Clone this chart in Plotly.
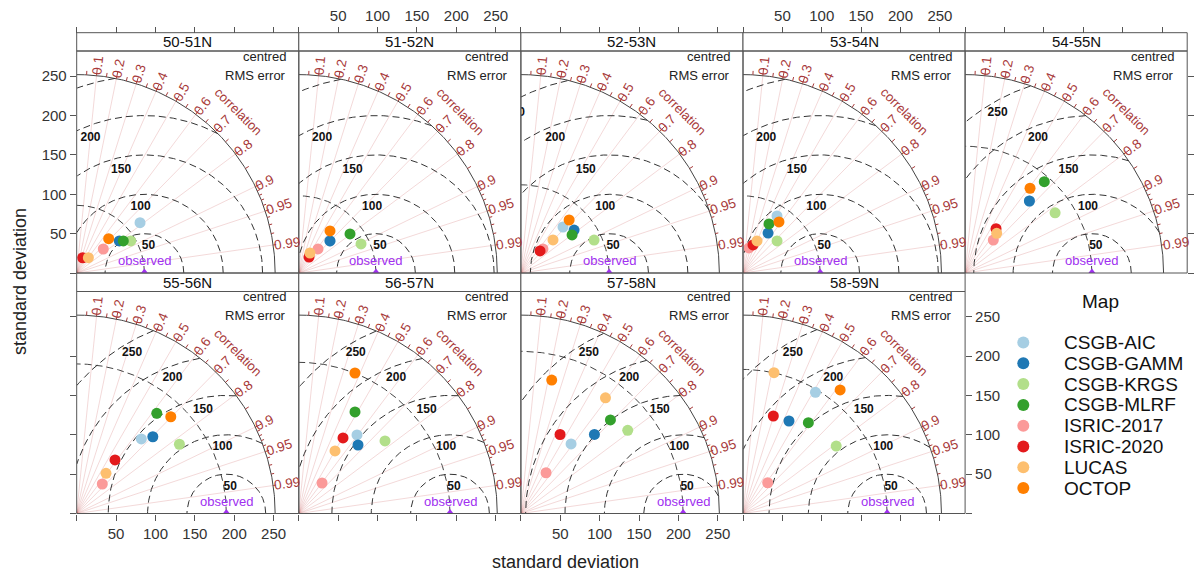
import math
import numpy as np
import plotly.graph_objects as go

W, H = 1200, 578
FONT = "Liberation Sans, Arial, sans-serif"

# ---------------- data ----------------
panels = ["50-51N", "51-52N", "52-53N", "53-54N", "54-55N",
          "55-56N", "56-57N", "57-58N", "58-59N"]
obs_sd = [86, 98, 112, 98, 161, 190, 192, 206, 183]

maps = ["CSGB-AIC", "CSGB-GAMM", "CSGB-KRGS", "CSGB-MLRF",
        "ISRIC-2017", "ISRIC-2020", "LUCAS", "OCTOP"]
map_colors = ["#A6CEE3", "#1F78B4", "#B2DF8A", "#33A02C",
              "#FB9A99", "#E31A1C", "#FDBF6F", "#FF7F00"]

sd_csgb_aic = [102.7, 56.8, 79.2, 84.3, 122.6, 125.3, 124.2, 108.9, 179.3]
cor_csgb_aic = [0.783, 0.697, 0.675, 0.512, 0.666, 0.655, 0.595, 0.585, 0.513]
sd_csgb_gamm = [67.7, 56.8, 86.8, 59.9, 122.6, 137.3, 115.0, 137.1, 131.2]
cor_csgb_gamm = [0.799, 0.697, 0.778, 0.531, 0.666, 0.704, 0.654, 0.681, 0.445]
sd_csgb_krgs = [79.8, 87.2, 101.9, 59.4, 137.5, 157.3, 143.1, 171.9, 146.1]
cor_csgb_krgs = [0.860, 0.906, 0.912, 0.728, 0.831, 0.829, 0.765, 0.789, 0.810]
sd_csgb_mlrf = [71.8, 81.8, 81.0, 70.5, 153.5, 162.9, 147.4, 164.5, 142.1]
cor_csgb_mlrf = [0.824, 0.795, 0.802, 0.468, 0.655, 0.624, 0.484, 0.691, 0.584]
sd_isric_2017 = [45.5, 39.1, 41.4, 32.7, 55.1, 49.6, 48.7, 60.8, 50.1]
cor_isric_2017 = [0.742, 0.624, 0.676, 0.232, 0.650, 0.655, 0.606, 0.525, 0.626]
sd_isric_2020 = [20.8, 24.1, 37.1, 37.8, 68.7, 83.6, 111.2, 112.0, 129.7]
cor_isric_2020 = [0.365, 0.539, 0.655, 0.336, 0.572, 0.582, 0.505, 0.444, 0.297]
sd_lucas = [24.4, 29.1, 58.5, 44.4, 64.4, 63.2, 91.8, 182.0, 183.2]
cor_lucas = [0.607, 0.488, 0.697, 0.401, 0.623, 0.589, 0.501, 0.590, 0.215]
sd_octop = [59.6, 66.5, 91.0, 79.3, 135.6, 171.4, 192.2, 174.0, 199.6]
cor_octop = [0.681, 0.596, 0.673, 0.576, 0.608, 0.697, 0.371, 0.225, 0.618]

series_sd = [sd_csgb_aic, sd_csgb_gamm, sd_csgb_krgs, sd_csgb_mlrf,
             sd_isric_2017, sd_isric_2020, sd_lucas, sd_octop]
series_cor = [cor_csgb_aic, cor_csgb_gamm, cor_csgb_krgs, cor_csgb_mlrf,
              cor_isric_2017, cor_isric_2020, cor_lucas, cor_octop]

sd_ticks = [0, 50, 100, 150, 200, 250]
sd_ticklabels = ["", "50", "100", "150", "200", "250"]
rms_levels = [50, 100, 150, 200, 250]
rms_label_angle = [1.47, 1.62, 1.77, 1.92, 2.07]     # radians along each rms circle
corr_labels = [0.1, 0.2, 0.3, 0.4, 0.5, 0.6, 0.7, 0.8, 0.9, 0.95, 0.99]
corr_med_ticks = [0.05, 0.15, 0.25, 0.35, 0.45, 0.55, 0.65, 0.75, 0.85, 0.95]
corr_small_ticks = [0.91, 0.92, 0.93, 0.94, 0.96, 0.97, 0.98, 0.99]
max_sd = 252

# ---------------- style / geometry ----------------
AX_MAX = 282
col_left0, col_w = 76.7, 222.1
rows = [dict(strip_top=32.7, top=51.0, bottom=273.0),
        dict(strip_top=273.0, top=291.5, bottom=513.5)]
PPU = col_w / AX_MAX
FRAME = "#555555"
CORR_COL = "#A83A3A"
CORR_LINE = "rgba(200,80,80,0.22)"
ARC_COL = "#444444"
OBS_COL = "#A030F0"
RMS_FS = 12
CORR_FS = 13.5
DASH = "7px,4px"


def pxx(x):
    return x / W


def pyy(y):
    return 1 - y / H


def text_em(s):
    return sum(0.278 if ch == "." else 0.556 for ch in s)


fig = go.Figure()
layout = {}
annotations = []
shapes = []

for k, name in enumerate(panels):
    r, c = divmod(k, 5)
    g = rows[r]
    L = col_left0 + c * col_w
    R = L + col_w
    sfx = "" if k == 0 else str(k + 1)
    xa, ya = "x" + sfx, "y" + sfx
    sd_r = obs_sd[k]

    tickfont = dict(family=FONT, size=15, color="#333333")
    xaxis = dict(domain=[pxx(L), pxx(R)], range=[0, AX_MAX], showgrid=False,
                 zeroline=False, showline=False, tickvals=sd_ticks,
                 ticktext=sd_ticklabels, ticks="outside", ticklen=6,
                 tickcolor=FRAME, tickfont=tickfont, automargin=False,
                 fixedrange=True)
    yaxis = dict(domain=[pyy(g["bottom"]), pyy(g["top"])], range=[0, AX_MAX],
                 showgrid=False, zeroline=False, showline=False,
                 tickvals=sd_ticks, ticktext=sd_ticklabels, ticks="outside",
                 ticklen=6, tickcolor=FRAME, tickfont=tickfont,
                 automargin=False, fixedrange=True, anchor=xa)
    if r == 0:
        xaxis.update(side="top", anchor="free", position=pyy(g["strip_top"]),
                     showticklabels=(c in (1, 3)))
        if c == 0:
            yaxis.update(side="left", showticklabels=True)
        elif c == 4:
            yaxis.update(side="right", showticklabels=False)
        else:
            yaxis.update(ticks="", showticklabels=False)
    else:
        xaxis.update(side="bottom", anchor=ya, showticklabels=(c in (0, 2)))
        if c == 0:
            yaxis.update(side="left", showticklabels=False)
        elif c == 3:
            yaxis.update(side="right", showticklabels=True)
        else:
            yaxis.update(ticks="", showticklabels=False)
    layout["xaxis" + sfx] = xaxis
    layout["yaxis" + sfx] = yaxis

    # correlation rays
    rx, ry = [], []
    for cc in corr_labels:
        rx += [0, max_sd * cc, None]
        ry += [0, max_sd * math.sqrt(1 - cc * cc), None]
    fig.add_trace(go.Scatter(x=rx, y=ry, mode="lines", xaxis=xa, yaxis=ya,
                             line=dict(color=CORR_LINE, width=1),
                             hoverinfo="skip", showlegend=False))

    # outer arc (solid) and observed-sd arc (dashed)
    th = np.linspace(0, math.pi / 2, 200)
    fig.add_trace(go.Scatter(x=max_sd * np.cos(th), y=max_sd * np.sin(th),
                             mode="lines", xaxis=xa, yaxis=ya,
                             line=dict(color=ARC_COL, width=1),
                             hoverinfo="skip", showlegend=False))
    fig.add_trace(go.Scatter(x=sd_r * np.cos(th), y=sd_r * np.sin(th),
                             mode="lines", xaxis=xa, yaxis=ya,
                             line=dict(color=ARC_COL, width=1, dash=DASH),
                             hoverinfo="skip", showlegend=False))

    # centred RMS circles
    t = np.linspace(0, math.pi, 600)
    for gm in rms_levels:
        cx = sd_r + gm * np.cos(t)
        cy = gm * np.sin(t)
        keep = (cx >= 0) & (cx * cx + cy * cy <= max_sd * max_sd)
        fig.add_trace(go.Scatter(x=cx[keep], y=cy[keep], mode="lines",
                                 xaxis=xa, yaxis=ya,
                                 line=dict(color="#333333", width=1, dash=DASH),
                                 hoverinfo="skip", showlegend=False))
    lx, ly, lt = [], [], []
    for gm, a in zip(rms_levels, rms_label_angle):
        xx = sd_r + gm * math.cos(a)
        half_w = text_em(str(gm)) * RMS_FS / PPU / 2
        if xx + half_w <= 0:
            continue  # entirely outside the panel
        lx.append(xx)
        ly.append(gm * math.sin(a) - 12.5 / PPU)
        lt.append("<b>%d</b>" % gm)
    fig.add_trace(go.Scatter(x=lx, y=ly, mode="text", xaxis=xa, yaxis=ya,
                             text=lt, textposition="middle center",
                             textfont=dict(family=FONT, size=RMS_FS, color="#111111"),
                             cliponaxis=True, hoverinfo="skip", showlegend=False))

    # correlation ticks on outer arc
    tx, ty = [], []
    for lst, ln in ((corr_labels[:9], 1.035), (corr_med_ticks, 1.02), (corr_small_ticks, 1.015)):
        for cc in lst:
            s = math.sqrt(1 - cc * cc)
            tx += [max_sd * cc, max_sd * ln * cc, None]
            ty += [max_sd * s, max_sd * ln * s, None]
    fig.add_trace(go.Scatter(x=tx, y=ty, mode="lines", xaxis=xa, yaxis=ya,
                             line=dict(color=CORR_COL, width=1),
                             cliponaxis=False, hoverinfo="skip", showlegend=False))

    # correlation labels
    for cc in corr_labels:
        lbl = ("%g" % cc)
        ang = math.acos(cc)
        half = text_em(lbl) * CORR_FS / PPU / 2
        rc = max_sd * 1.005 + half
        annotations.append(dict(x=rc * math.cos(ang), y=rc * math.sin(ang),
                                xref=xa, yref=ya, text=lbl, showarrow=False,
                                xanchor="center", yanchor="middle",
                                textangle=-math.degrees(ang),
                                font=dict(family=FONT, size=CORR_FS, color=CORR_COL)))
    annotations.append(dict(x=max_sd * 0.814, y=max_sd * 0.814, xref=xa, yref=ya,
                            text="correlation", showarrow=False, textangle=45,
                            xanchor="center", yanchor="middle",
                            font=dict(family=FONT, size=13, color=CORR_COL)))

    # observed point
    fig.add_trace(go.Scatter(x=[sd_r], y=[0], mode="markers", xaxis=xa, yaxis=ya,
                             marker=dict(symbol="triangle-up", size=9, color=OBS_COL),
                             cliponaxis=True, hoverinfo="skip", showlegend=False))
    annotations.append(dict(x=sd_r, y=0, xref=xa, yref=ya, text="observed",
                            showarrow=False, xanchor="center", yanchor="bottom", yshift=3,
                            font=dict(family=FONT, size=13, color=OBS_COL)))

    # model points
    for m, col, sds, cors in zip(maps, map_colors, series_sd, series_cor):
        sd = sds[k]
        cr = cors[k]
        fig.add_trace(go.Scatter(x=[sd * cr], y=[sd * math.sqrt(1 - cr * cr)],
                                 mode="markers", xaxis=xa, yaxis=ya, name=m,
                                 marker=dict(size=11, color=col),
                                 showlegend=False))

    # centred RMS error text
    annotations.append(dict(x=pxx(R - 11), y=pyy(g["top"] + 5), xref="paper",
                            yref="paper", text="centred", showarrow=False,
                            xanchor="right", yanchor="middle",
                            font=dict(family=FONT, size=13, color="#222222")))
    annotations.append(dict(x=pxx(R - 11), y=pyy(g["top"] + 24), xref="paper",
                            yref="paper", text="RMS error", showarrow=False,
                            xanchor="right", yanchor="middle",
                            font=dict(family=FONT, size=13, color="#222222")))

    # strip + frame
    shapes.append(dict(type="rect", xref="paper", yref="paper", x0=pxx(L), x1=pxx(R),
                       y0=pyy(g["top"]), y1=pyy(g["strip_top"]),
                       line=dict(color=FRAME, width=1), fillcolor="white", layer="below"))
    shapes.append(dict(type="rect", xref="paper", yref="paper", x0=pxx(L), x1=pxx(R),
                       y0=pyy(g["bottom"]), y1=pyy(g["top"]),
                       line=dict(color=FRAME, width=1), layer="above"))
    annotations.append(dict(x=pxx((L + R) / 2), y=pyy((g["strip_top"] + g["top"]) / 2),
                            xref="paper", yref="paper", text=name, showarrow=False,
                            xanchor="center", yanchor="middle",
                            font=dict(family=FONT, size=15, color="#111111")))

# ---------------- legend (overlay axis in pixel units) ----------------
leg_y0, leg_step = 342.5, 20.8
leg_ys = [leg_y0 + i * leg_step for i in range(len(maps))]
layout["xaxis10"] = dict(domain=[0, 1], range=[0, W], visible=False, anchor="y10",
                         fixedrange=True)
layout["yaxis10"] = dict(domain=[0, 1], range=[H, 0], visible=False, anchor="x10",
                         fixedrange=True)
fig.add_trace(go.Scatter(x=[1023.3] * len(maps), y=leg_ys, mode="markers",
                         xaxis="x10", yaxis="y10",
                         marker=dict(size=12, color=map_colors),
                         hoverinfo="skip", showlegend=False))
for m, yv in zip(maps, leg_ys):
    annotations.append(dict(x=1061.7, y=yv, xref="x10", yref="y10", text=m,
                            showarrow=False, xanchor="left", yanchor="middle",
                            font=dict(family=FONT, size=19, color="#111111")))
annotations.append(dict(x=1100, y=301.7, xref="x10", yref="y10", text="Map",
                        showarrow=False, xanchor="center", yanchor="middle",
                        font=dict(family=FONT, size=19, color="#111111")))

# axis titles
annotations.append(dict(x=pxx(565), y=pyy(562), xref="paper", yref="paper",
                        text="standard deviation", showarrow=False,
                        xanchor="center", yanchor="middle",
                        font=dict(family=FONT, size=18, color="#222222")))
annotations.append(dict(x=pxx(20), y=pyy(282), xref="paper", yref="paper",
                        text="standard deviation", showarrow=False, textangle=-90,
                        xanchor="center", yanchor="middle",
                        font=dict(family=FONT, size=18, color="#222222")))

fig.update_layout(width=W, height=H, margin=dict(l=0, r=0, t=0, b=0),
                  paper_bgcolor="white", plot_bgcolor="rgba(0,0,0,0)",
                  showlegend=False, annotations=annotations, shapes=shapes,
                  **layout)
fig.write_html("out.html", config={"displayModeBar": False},
               post_script="document.body.style.margin='0';document.body.style.overflow='hidden';")
